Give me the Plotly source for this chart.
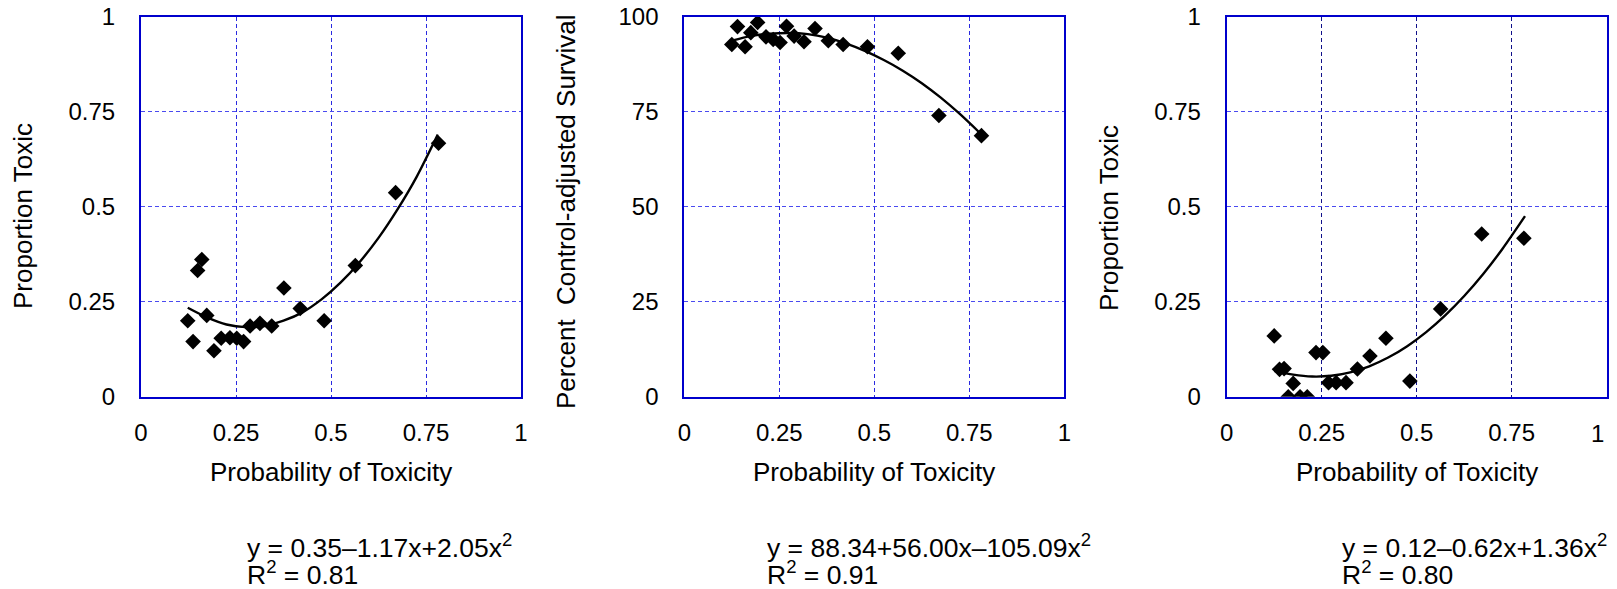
import plotly.graph_objects as go

W, H = 1617, 589

# ---------------- data ----------------
p1_x = [0.123, 0.137, 0.149, 0.160, 0.173, 0.192, 0.211, 0.234, 0.252, 0.270,
        0.287, 0.313, 0.344, 0.376, 0.419, 0.482, 0.564, 0.670, 0.783]
p1_y = [0.200, 0.145, 0.332, 0.361, 0.214, 0.121, 0.154, 0.155, 0.154, 0.145,
        0.186, 0.193, 0.186, 0.286, 0.232, 0.200, 0.345, 0.537, 0.667]
p1_fit_x = [0.123, 0.175, 0.225, 0.275, 0.325, 0.375, 0.425, 0.475, 0.525, 0.575, 0.625, 0.675, 0.725, 0.781]
p1_fit_y = [0.234, 0.208, 0.190, 0.183, 0.186, 0.200, 0.222, 0.256, 0.300, 0.354, 0.418, 0.493, 0.578, 0.690]

p2_x = [0.125, 0.140, 0.160, 0.175, 0.193, 0.215, 0.234, 0.252, 0.269, 0.289,
        0.315, 0.344, 0.379, 0.418, 0.482, 0.563, 0.670, 0.782]
p2_y = [92.7, 97.4, 92.1, 95.8, 98.5, 94.7, 94.0, 93.2, 97.5, 94.9,
        93.4, 96.9, 93.7, 92.7, 92.1, 90.4, 74.0, 68.7]
p2_fit_x = [0.125, 0.175, 0.225, 0.275, 0.325, 0.375, 0.425, 0.475, 0.525, 0.575, 0.625, 0.675, 0.725, 0.782]
p2_fit_y = [93.7, 94.9, 95.5, 95.7, 95.4, 94.5, 93.0, 91.0, 88.6, 85.8, 82.5, 78.7, 74.4, 69.0]

p3_x = [0.125, 0.139, 0.151, 0.162, 0.175, 0.193, 0.212, 0.235, 0.253, 0.268,
        0.288, 0.314, 0.344, 0.377, 0.419, 0.482, 0.563, 0.671, 0.782]
p3_y = [0.160, 0.072, 0.074, 0.000, 0.035, 0.000, 0.000, 0.116, 0.116, 0.037,
        0.037, 0.037, 0.073, 0.107, 0.154, 0.041, 0.231, 0.428, 0.417]
p3_fit_x = [0.125, 0.175, 0.225, 0.275, 0.325, 0.375, 0.425, 0.475, 0.525, 0.575, 0.625, 0.675, 0.725, 0.785]
p3_fit_y = [0.068, 0.058, 0.053, 0.055, 0.064, 0.080, 0.103, 0.133, 0.170, 0.214, 0.265, 0.323, 0.388, 0.475]

prob_ticks = [0, 0.25, 0.5, 0.75, 1]
prob_labels = ["0", "0.25", "0.5", "0.75", "1"]
prob_labels_last = ["0", "0.25", "0.5", "0.75", ""]
surv_ticks = [0, 25, 50, 75, 100]
surv_labels = ["0", "25", "50", "75", "100"]

x_title = "Probability of Toxicity"
y_titles = ["Proportion Toxic", "Percent  Control-adjusted Survival", "Proportion Toxic"]
eq_lines = ["y = 0.35–1.17x+2.05x<sup>2</sup>",
            "y = 88.34+56.00x–105.09x<sup>2</sup>",
            "y = 0.12–0.62x+1.36x<sup>2</sup>"]
r2_lines = ["R<sup>2</sup> = 0.81", "R<sup>2</sup> = 0.91", "R<sup>2</sup> = 0.80"]

# ---------------- layout geometry (pixels) ----------------
FONT = "Liberation Sans, Arial, sans-serif"
plot_left = [141, 684.3, 1226.7]
plot_w = 380
plot_top, plot_bot = 16.7, 396.7
ytitle_x = [23, 566, 1109]
ytitle_y = [216, 212, 218]
eq_x = [245, 765, 1340]

def px(x):
    return x / W

def py(y):
    return 1 - y / H

fig = go.Figure()

panels = [(p1_x, p1_y, p1_fit_x, p1_fit_y, [0, 1], prob_ticks, prob_labels, prob_labels),
          (p2_x, p2_y, p2_fit_x, p2_fit_y, [0, 100], surv_ticks, surv_labels, prob_labels),
          (p3_x, p3_y, p3_fit_x, p3_fit_y, [0, 1], prob_ticks, prob_labels, prob_labels_last)]

vgrid_colors = ["#2a2ae0", "#2a2ae0", "#10108a"]

for i, (xs, ys, fx, fy, yr, yt, yl, xl) in enumerate(panels):
    n = "" if i == 0 else str(i + 1)
    xa, ya = "x" + n, "y" + n
    fig.add_trace(go.Scatter(x=fx, y=fy, mode="lines",
                             line=dict(color="black", width=2.4, shape="spline", smoothing=0.8),
                             xaxis=xa, yaxis=ya, showlegend=False, hoverinfo="skip"))
    fig.add_trace(go.Scatter(x=xs, y=ys, mode="markers",
                             marker=dict(symbol="diamond", size=12, color="black"),
                             xaxis=xa, yaxis=ya, showlegend=False))
    fig.layout["xaxis" + n] = dict(
        domain=[px(plot_left[i]), px(plot_left[i] + plot_w)], anchor=ya,
        range=[0, 1], tickvals=prob_ticks, ticktext=xl, automargin=False,
        showline=True, mirror=True, linecolor="#0000cc", linewidth=2,
        showgrid=True, gridcolor=vgrid_colors[i], griddash="4px,3px", gridwidth=1,
        zeroline=False, ticks="", ticklabelstandoff=13,
        tickfont=dict(family=FONT, size=24, color="black"))
    fig.layout["yaxis" + n] = dict(
        domain=[py(plot_bot), py(plot_top)], anchor=xa,
        range=yr, tickvals=yt, ticktext=yl, automargin=False,
        showline=True, mirror=True, linecolor="#0000cc", linewidth=2,
        showgrid=True, gridcolor="#4a4af0", griddash="4px,3px", gridwidth=1,
        zeroline=False, ticks="", ticklabelstandoff=19,
        tickfont=dict(family=FONT, size=24, color="black"))

    cx = plot_left[i] + plot_w / 2
    fig.add_annotation(x=px(cx), y=py(472), xref="paper", yref="paper", text=x_title,
                       showarrow=False, xanchor="center", yanchor="middle",
                       font=dict(family=FONT, size=26, color="black"))
    fig.add_annotation(x=px(ytitle_x[i]), y=py(ytitle_y[i]), xref="paper", yref="paper",
                       text=y_titles[i], textangle=-90, showarrow=False,
                       xanchor="center", yanchor="middle",
                       font=dict(family=FONT, size=26, color="black"))
    fig.add_annotation(x=px(eq_x[i]), y=py(546), xref="paper", yref="paper", text=eq_lines[i],
                       showarrow=False, xanchor="left", yanchor="middle",
                       font=dict(family=FONT, size=26.5, color="black"))
    fig.add_annotation(x=px(eq_x[i]), y=py(573), xref="paper", yref="paper", text=r2_lines[i],
                       showarrow=False, xanchor="left", yanchor="middle",
                       font=dict(family=FONT, size=26.5, color="black"))

# last x tick label of the third panel sits just inside the page edge
fig.add_annotation(x=px(1597), y=py(433), xref="paper", yref="paper", text=prob_labels[-1],
                   showarrow=False, xanchor="center", yanchor="middle",
                   font=dict(family=FONT, size=24, color="black"))

fig.update_layout(width=W, height=H, margin=dict(l=0, r=0, t=0, b=0, autoexpand=False),
                  paper_bgcolor="white", plot_bgcolor="white",
                  font=dict(family=FONT, color="black"))

fig.write_html("out.html", config={"displayModeBar": False},
               post_script="document.body.style.margin='0';document.body.style.overflow='hidden';")
